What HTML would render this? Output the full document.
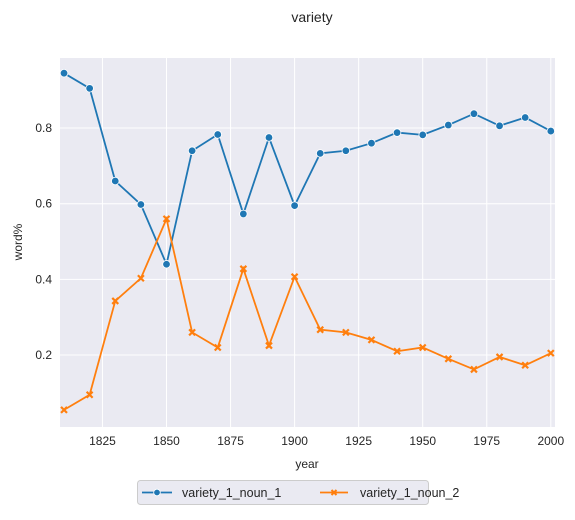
<!DOCTYPE html>
<html><head><meta charset="utf-8"><style>
body{margin:0;background:#fff;font-family:"Liberation Sans",Arial,sans-serif}
</style></head><body>
<svg width="575" height="515" xmlns="http://www.w3.org/2000/svg" style="font-family:'Liberation Sans',Arial,sans-serif">
<text x="312" y="22" text-anchor="middle" font-size="14" fill="#262626">variety</text>
<rect x="60" y="58" width="495" height="369" fill="#eaeaf2"/>
<g id="grid"></g>
<g id="ticks" font-size="12" fill="#262626"></g>
<g id="series"></g>
<text x="307" y="468" text-anchor="middle" font-size="12" fill="#262626">year</text>
<text transform="translate(22,242) rotate(-90)" text-anchor="middle" font-size="12" fill="#262626">word%</text>
<g>
<rect x="137.5" y="480.5" width="291" height="24" rx="3" fill="#eaeaf2" stroke="#cccccc"/>
<g>
<line x1="142" y1="492.5" x2="172" y2="492.5" stroke="#1f77b4" stroke-width="1.8"/>
<circle cx="157" cy="492.5" r="3.3" fill="#1f77b4" stroke="#fff" stroke-width="0.8"/>
<text x="182" y="497" font-size="12.5" fill="#262626">variety_1_noun_1</text></g>
<g>
<line x1="320" y1="492.5" x2="348" y2="492.5" stroke="#ff7f0e" stroke-width="1.8"/>
<path d="M331.5,490L336.5,495M331.5,495L336.5,490" stroke="#ff7f0e" stroke-width="2"/>
<text x="360" y="497" font-size="12.5" fill="#262626">variety_1_noun_2</text></g>
</g>
</svg>
<script>
const years=[1810,1820,1830,1840,1850,1860,1870,1880,1890,1900,1910,1920,1930,1940,1950,1960,1970,1980,1990,2000];
const noun1=[0.945,0.905,0.66,0.598,0.44,0.74,0.783,0.573,0.775,0.595,0.733,0.74,0.76,0.788,0.782,0.808,0.838,0.806,0.828,0.792];
const noun2=[0.055,0.095,0.343,0.403,0.56,0.26,0.22,0.428,0.225,0.407,0.267,0.26,0.24,0.21,0.22,0.19,0.162,0.195,0.173,0.205];
const xTicks=[1825,1850,1875,1900,1925,1950,1975,2000];
const yTicks=[0.2,0.4,0.6,0.8];
const NS="http://www.w3.org/2000/svg";
const X=v=>166.5+(v-1850)*2.562;
const Y=v=>430.7-v*378.3;
function mk(tag,attrs,parent){const e=document.createElementNS(NS,tag);for(const k in attrs)e.setAttribute(k,attrs[k]);parent.appendChild(e);return e;}
const grid=document.getElementById('grid'),ticks=document.getElementById('ticks'),series=document.getElementById('series');
xTicks.forEach(t=>{
 const l=mk('line',{x1:X(t),x2:X(t),y1:58,y2:427,stroke:'#fff','stroke-width':1},grid);
 
 
 const tx=mk('text',{x:X(t),y:445,'text-anchor':'middle'},ticks);tx.textContent=t;
 
 
});
yTicks.forEach(t=>{
 const l=mk('line',{x1:60,x2:555,y1:Y(t),y2:Y(t),stroke:'#fff','stroke-width':1},grid);
 
 
 const tx=mk('text',{x:52,y:Y(t)+4,'text-anchor':'end'},ticks);tx.textContent=t.toFixed(1);
 
 
});
function draw(vals,color,marker,name){
 const p=mk('polyline',{points:years.map((y,i)=>X(y)+','+Y(vals[i])).join(' '),fill:'none',stroke:color,'stroke-width':1.8},series);
 
 
 years.forEach((y,i)=>{
  let m;
  if(marker==='o'){m=mk('circle',{cx:X(y),cy:Y(vals[i]),r:3.8,fill:color,stroke:'#fff','stroke-width':0.8},series);}
  else{const cx=X(y),cy=Y(vals[i]),d=3;
   m=mk('path',{d:`M${cx-d},${cy-d}L${cx+d},${cy+d}M${cx-d},${cy+d}L${cx+d},${cy-d}`,stroke:color,'stroke-width':2.2,fill:'none'},series);}
  
  
 });
}
draw(noun1,'#1f77b4','o','noun-1');
draw(noun2,'#ff7f0e','x','noun-2');
</script>
</body></html>
